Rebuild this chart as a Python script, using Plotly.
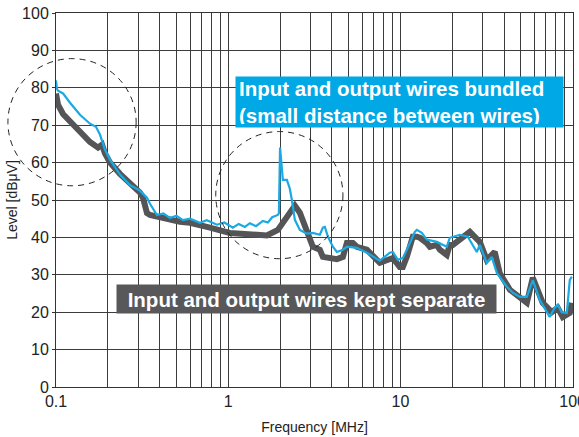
import plotly.graph_objects as go

# Conducted noise level vs frequency for two wiring arrangements
freq_separate = [0.100, 0.1013, 0.1027, 0.1098, 0.1206, 0.1378, 0.1575, 0.1754, 0.185, 0.1923,
                 0.2057, 0.2352, 0.2688, 0.3073, 0.3198, 0.3285, 0.3375, 0.3513, 0.3855, 0.4588,
                 0.5244, 0.5995, 0.6852, 0.7834, 1.023, 1.336, 1.677, 1.942, 2.191, 2.342,
                 2.438, 2.606, 2.862, 3.101, 3.405, 3.545, 4.274, 4.632, 4.886, 5.295,
                 5.585, 6.384, 7.59, 8.675, 9.034, 9.91, 10.33, 10.89, 11.8, 12.45,
                 12.97, 14.23, 14.82, 16.26, 16.93, 18.58, 19.35, 20.15, 25.29, 28.9,
                 31.7, 35.3, 37.7, 43.2, 49.3, 54.2, 58.7, 67.0, 75.6, 81.9,
                 87.6, 96.2, 98.9]
level_separate = [78.5, 77.0, 75.5, 73.0, 71.0, 68.0, 65.5, 64.0, 64.8, 62.5,
                  60.0, 57.0, 54.5, 52.0, 50.6, 48.5, 46.5, 46.0, 45.5, 44.7,
                  44.2, 43.9, 43.4, 42.6, 41.2, 40.7, 40.5, 42.0, 45.5, 48.0,
                  48.5, 46.6, 42.0, 37.5, 36.7, 34.8, 34.2, 34.8, 38.5, 38.5,
                  37.5, 36.7, 33.2, 34.0, 34.5, 32.1, 32.1, 34.8, 40.2, 40.2,
                  39.9, 38.5, 37.5, 38.0, 36.7, 35.3, 38.0, 38.0, 41.5, 38.8,
                  34.0, 36.1, 30.5, 26.0, 23.8, 22.5, 29.2, 22.5, 20.0, 21.2,
                  18.7, 19.8, 22.5]

freq_bundled = [0.100, 0.1013, 0.1027, 0.1098, 0.1206, 0.1378, 0.1575, 0.1706, 0.18, 0.1923,
                0.2057, 0.2352, 0.2688, 0.3073, 0.3375, 0.3513, 0.3855, 0.42, 0.4588, 0.50,
                0.5458, 0.60, 0.6852, 0.75, 0.8596, 0.95, 1.064, 1.15, 1.25, 1.336,
                1.45, 1.589, 1.70, 1.80, 1.942, 1.97, 2.00, 2.076, 2.191, 2.279,
                2.342, 2.438, 2.606, 2.862, 3.101, 3.405, 3.545, 3.64, 3.79, 4.053,
                4.274, 4.632, 4.886, 5.585, 6.384, 7.59, 8.675, 9.034, 9.66, 10.33,
                10.89, 12.13, 12.45, 13.31, 14.23, 16.26, 18.58, 19.35, 22.11, 24.61,
                27.75, 28.9, 31.7, 33.9, 36.3, 41.5, 44.9, 49.3, 54.2, 58.7,
                64.4, 73.6, 78.7, 81.9, 86.4, 92.5, 96.2, 98.9]
level_bundled = [82.0, 79.7, 79.2, 78.5, 76.0, 72.8, 70.4, 69.6, 67.5, 63.5,
                 60.8, 56.8, 54.0, 52.5, 50.6, 49.0, 46.0, 46.4, 45.2, 45.8,
                 44.6, 45.0, 43.9, 44.6, 43.4, 44.0, 42.6, 43.6, 42.8, 43.8,
                 43.0, 44.4, 44.0, 45.4, 46.0, 46.5, 64.0, 55.4, 55.4, 53.0,
                 50.0, 44.7, 42.0, 41.0, 41.2, 40.7, 42.6, 42.8, 40.2, 37.5,
                 36.1, 36.7, 37.5, 37.2, 35.9, 33.8, 35.9, 36.1, 34.0, 34.5,
                 36.7, 41.5, 42.0, 41.2, 39.4, 38.8, 37.5, 39.9, 40.7, 40.2,
                 36.1, 38.0, 33.2, 34.8, 30.5, 26.8, 25.2, 24.1, 24.1, 28.6,
                 23.3, 18.7, 21.2, 22.0, 20.0, 19.8, 28.6, 29.5]

# Log-axis grid: every integer multiple in each decade, labels at decades only
grid_freqs = [m * 10.0 ** e for e in (-1, 0, 1) for m in range(1, 10)] + [100.0]
decade_labels = {0.1: "0.1", 1.0: "1", 10.0: "10", 100.0: "100"}
x_tick_text = [decade_labels.get(round(f, 6), "") for f in grid_freqs]
y_ticks = list(range(0, 101, 10))

GRAY = "#555557"
BLUE = "#1aa9e2"

fig = go.Figure()
fig.add_trace(go.Scatter(x=freq_separate, y=level_separate, mode="lines",
                         line=dict(color=GRAY, width=6), showlegend=False))
fig.add_trace(go.Scatter(x=freq_bundled, y=level_bundled, mode="lines",
                         line=dict(color=BLUE, width=2.2), showlegend=False))

font_family = "Liberation Sans, Arial, sans-serif"

fig.update_layout(
    width=579, height=437,
    margin=dict(l=56, r=6, t=13, b=50),
    paper_bgcolor="white", plot_bgcolor="white",
    font=dict(family=font_family, color="#222222", size=14),
    xaxis=dict(type="log", range=[-1, 2.002], tickvals=grid_freqs, ticktext=x_tick_text,
               showgrid=True, gridcolor="#3c3c3c", gridwidth=1, zeroline=False,
               showline=True, linecolor="#333333", linewidth=1, mirror=True,
               ticks="", tickfont=dict(size=16), ticklabeloverflow="allow",
               automargin=False,
               title=dict(text="Frequency [MHz]", font=dict(size=14), standoff=12)),
    yaxis=dict(range=[0, 100], tickvals=y_ticks, showgrid=True, gridcolor="#3c3c3c",
               gridwidth=1, zeroline=False, showline=True, linecolor="#333333",
               linewidth=1, mirror=True, ticks="outside", ticklen=3, tickcolor="#333333",
               tickfont=dict(size=16), automargin=False,
               title=dict(text="Level [dBμV]", font=dict(size=14), standoff=1)),
)

# Dashed highlight circles
for x0, x1, y0, y1 in [(-0.093, 0.155, 0.538, 0.878), (0.309, 0.555, 0.343, 0.683)]:
    fig.add_shape(type="circle", xref="paper", yref="paper", x0=x0, x1=x1, y0=y0, y1=y1,
                  line=dict(color="#222222", width=1, dash="6px,5px"), layer="above")

fig.add_annotation(xref="paper", yref="paper", x=0.664, y=0.763,
                   xanchor="center", yanchor="middle",
                   text="<b>Input and output wires bundled<br>(small distance between wires)</b>",
                   showarrow=False, align="left", bgcolor="#00a8e6",
                   width=321, height=44, borderpad=3,
                   font=dict(family=font_family, size=20.5, color="white"))
fig.add_annotation(xref="paper", yref="paper", x=0.4845, y=0.2356,
                   xanchor="center", yanchor="middle",
                   text="<b>Input and output wires kept separate</b>",
                   showarrow=False, align="center", bgcolor="#58585a",
                   width=375, height=24, borderpad=2,
                   font=dict(family=font_family, size=20.5, color="white"))

fig.write_html("out.html")
